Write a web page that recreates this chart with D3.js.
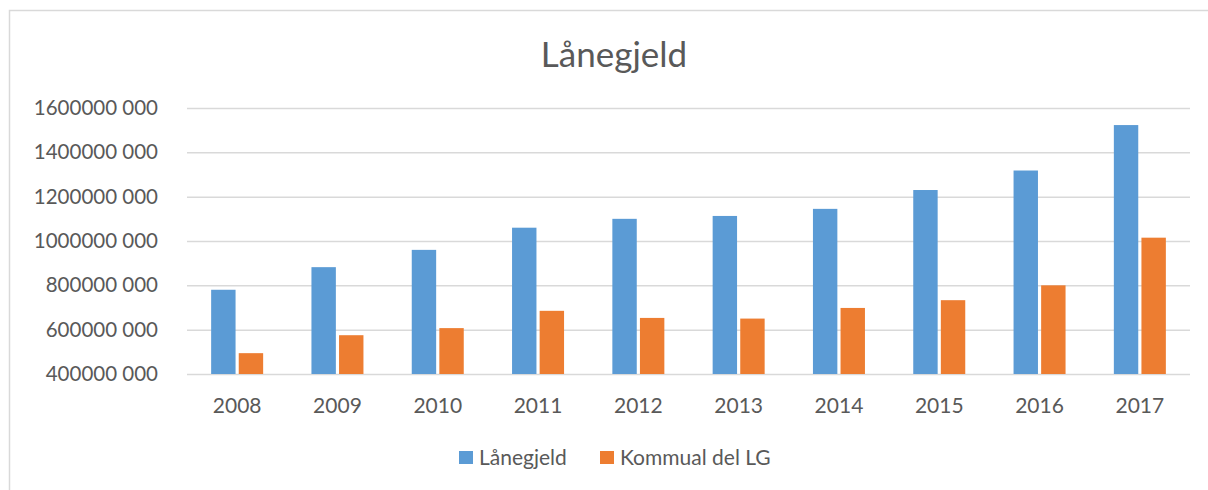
<!DOCTYPE html>
<html>
<head>
<meta charset="utf-8">
<script src="https://cdn.jsdelivr.net/npm/d3@7"></script>
<style>
  body { margin: 0; background: #fff; }
  text { font-family: Lato, "Open Sans", sans-serif; fill: #595959; }
</style>
</head>
<body>
<div id="chart"></div>
<script>
var years = ["2008", "2009", "2010", "2011", "2012", "2013", "2014", "2015", "2016", "2017"];
var laanegjeld = [780000000, 882000000, 960000000, 1060000000, 1100000000, 1113000000, 1145000000, 1230000000, 1318000000, 1523000000];
var kommunalDel = [494000000, 575000000, 607000000, 685000000, 653000000, 650000000, 698000000, 733000000, 800000000, 1015000000];
var seriesNames = ["Lånegjeld", "Kommual del LG"];
var yTicks = [400000000, 600000000, 800000000, 1000000000, 1200000000, 1400000000, 1600000000];

var colors = { "Lånegjeld": "#5B9BD5", "Kommual del LG": "#ED7D31" };
var W = 1208, H = 490;

var svg = d3.select("#chart").append("svg")
  .attr("width", W)
  .attr("height", H);

// outer chart frame
svg.append("rect")
  .attr("x", 9.5).attr("y", 10.5)
  .attr("width", W + 20).attr("height", H + 20)
  .attr("fill", "none")
  .attr("stroke", "#d9d9d9")
  .attr("stroke-width", 1.5);

var margin = { left: 187, right: 18, top: 108, bottom: 116 };

var x = d3.scaleBand().domain(years).range([margin.left, W - margin.right]);
var y = d3.scaleLinear().domain([400000000, 1600000000]).range([H - margin.bottom, margin.top]);

var barW = 23, barGap = 6;
var x1 = d3.scaleBand().domain(seriesNames)
  .range([0, 2 * barW + barGap]).paddingInner(barGap / (2 * barW + barGap));

function fmt(v) {
  var s = String(v);
  return s.slice(0, -3) + " " + s.slice(-3);
}

// gridlines + y labels
var yAxis = d3.axisLeft(y).tickValues(yTicks)
  .tickSize(-(W - margin.left - margin.right))
  .tickFormat(fmt);
var gy = svg.append("g")
  .attr("transform", "translate(" + margin.left + ",0)")
  .call(yAxis);
gy.select(".domain").remove();
gy.selectAll(".tick line").attr("stroke", "#d9d9d9").attr("stroke-width", 1.5);
gy.selectAll(".tick text")
  .attr("x", -29)
  .attr("font-size", 20.5)
  .attr("fill", "#595959");

// x labels
var gx = svg.append("g")
  .attr("transform", "translate(0," + (H - margin.bottom) + ")")
  .call(d3.axisBottom(x).tickSize(0).tickPadding(24));
gx.select(".domain").remove();
gx.selectAll(".tick text").attr("font-size", 21).attr("fill", "#595959");

// bars
var rows = years.map(function (yr, i) {
  return { year: yr, vals: [
    { name: seriesNames[0], v: laanegjeld[i] },
    { name: seriesNames[1], v: kommunalDel[i] }
  ] };
});
var off = (x.bandwidth() - (2 * barW + barGap)) / 2;
svg.append("g").selectAll("g")
  .data(rows)
  .enter().append("g")
  .attr("transform", function (d) { return "translate(" + (x(d.year) + off) + ",0)"; })
  .selectAll("rect")
  .data(function (d) { return d.vals; })
  .enter().append("rect")
  .attr("x", function (d) { return x1(d.name); })
  .attr("width", x1.bandwidth())
  .attr("y", function (d) { return y(d.v); })
  .attr("height", function (d) { return y(400000000) - y(d.v); })
  .attr("fill", function (d) { return colors[d.name]; });

// title
svg.append("text")
  .attr("x", 614).attr("y", 67)
  .attr("text-anchor", "middle")
  .attr("font-size", 35)
  .text("Lånegjeld");

// legend
var legX = [459, 600];
var leg = svg.append("g").selectAll("g")
  .data(seriesNames)
  .enter().append("g")
  .attr("transform", function (d, i) { return "translate(" + legX[i] + ",451)"; });
leg.append("rect")
  .attr("width", 14).attr("height", 13)
  .attr("fill", function (d) { return colors[d]; });
leg.append("text")
  .attr("x", 20).attr("y", 13.5)
  .attr("font-size", 21)
  .text(function (d) { return d; });
</script>
</body>
</html>
